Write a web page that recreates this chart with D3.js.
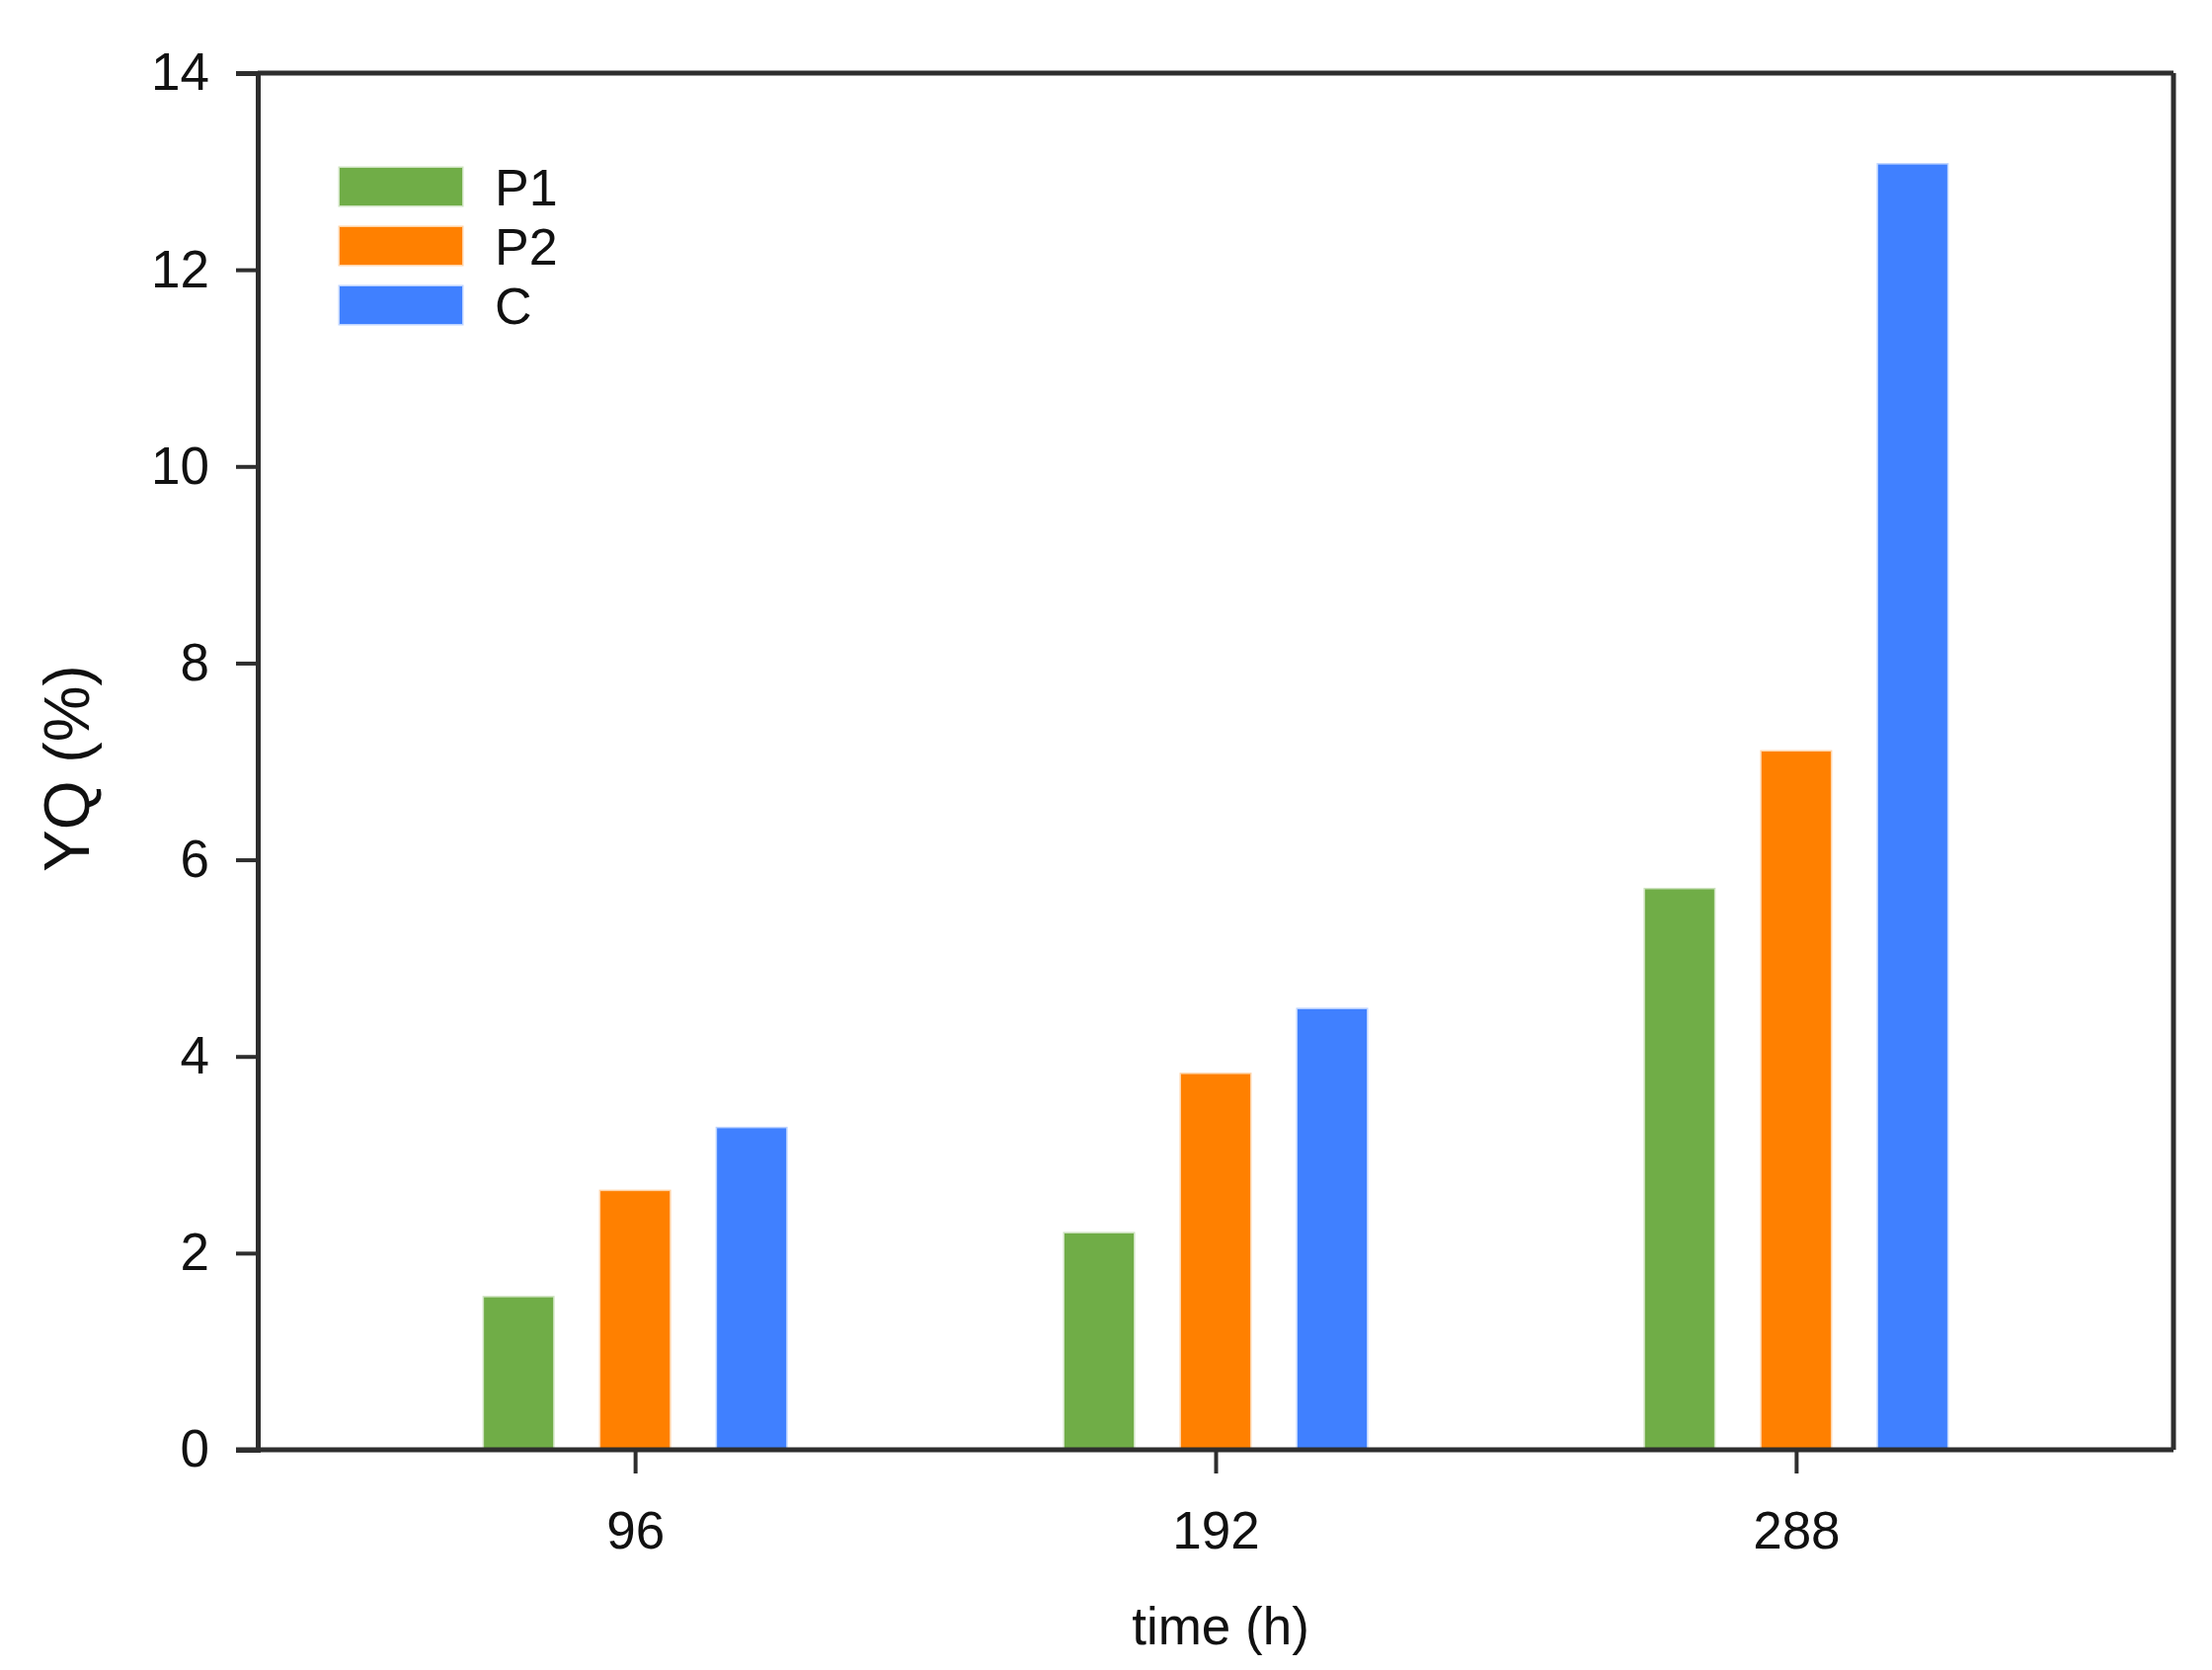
<!DOCTYPE html>
<html>
<head>
<meta charset="utf-8">
<script src="https://cdn.jsdelivr.net/npm/d3@7"></script>
<style>
  html, body { margin: 0; padding: 0; background: #fff; }
  svg { display: block; }
  text { font-family: "Liberation Sans", Arial, sans-serif; fill: #111; }
</style>
</head>
<body>
<svg id="chart" width="2240" height="1691"></svg>
<script>
const categories = [96, 192, 288];
const seriesNames = ["P1", "P2", "C"];
const seriesColors = ["#70AD47", "#FF8000", "#4080FF"];
const P1 = [1.55, 2.20, 5.70];
const P2 = [2.63, 3.82, 7.10];
const C  = [3.27, 4.48, 13.07];
const seriesValues = [P1, P2, C];
const yTicks = [0, 2, 4, 6, 8, 10, 12, 14];
const xTitle = "time (h)";
const yTitle = "YQ (%)";

const svg = d3.select("#chart");
const L = 261, R = 2201, T = 74, B = 1468;

const x = d3.scalePoint().domain(categories).range([L, R]).padding(0.65);
const x1 = d3.scaleBand().domain(seriesNames).range([-153, 153]).paddingInner(0.407).paddingOuter(0);
const y = d3.scaleLinear().domain([0, 14]).range([B, T]);

// bars
const data = [];
categories.forEach((c, i) => {
  seriesNames.forEach((s, j) => data.push({cat: c, series: s, value: seriesValues[j][i], color: seriesColors[j]}));
});
svg.append("g").selectAll("rect").data(data).join("rect")
  .attr("x", d => x(d.cat) + x1(d.series))
  .attr("width", x1.bandwidth())
  .attr("y", d => y(d.value))
  .attr("height", d => y(0) - y(d.value))
  .attr("fill", d => d.color)
  .attr("stroke", d => d.color)
  .attr("stroke-opacity", 0.35)
  .attr("stroke-width", 3);

// frame (top and right)
const axisColor = "#2e2e2e";
const axisW = 5;
svg.append("line").attr("x1", L).attr("x2", R).attr("y1", T).attr("y2", T)
  .attr("stroke", axisColor).attr("stroke-width", axisW);
svg.append("line").attr("x1", R).attr("x2", R).attr("y1", T).attr("y2", B)
  .attr("stroke", axisColor).attr("stroke-width", axisW);

// y axis
const yAxis = svg.append("g").attr("transform", `translate(${L},0)`)
  .call(d3.axisLeft(y).tickValues(yTicks).tickSize(22).tickPadding(27).tickFormat(d3.format("d")));
yAxis.select(".domain").attr("stroke", axisColor).attr("stroke-width", axisW);
yAxis.selectAll(".tick line").attr("stroke", axisColor).attr("stroke-width", 4);
yAxis.selectAll(".tick text").attr("font-size", 53).attr("fill", "#111")
  .style("font-family", "'Liberation Sans', Arial, sans-serif");

// x axis
const xAxis = svg.append("g").attr("transform", `translate(0,${B})`)
  .call(d3.axisBottom(x).tickSize(24).tickPadding(38));
xAxis.select(".domain").attr("d", `M${L - 22},0H${R}`).attr("stroke", axisColor).attr("stroke-width", axisW);
xAxis.selectAll(".tick line").attr("stroke", axisColor).attr("stroke-width", 4);
xAxis.selectAll(".tick text").attr("font-size", 53).attr("fill", "#111")
  .style("font-family", "'Liberation Sans', Arial, sans-serif");

// axis titles
svg.append("text").attr("x", (L + R) / 2 + 5).attr("y", 1665)
  .attr("text-anchor", "middle").attr("font-size", 53).text(xTitle);
svg.append("text").attr("transform", "translate(90,778) rotate(-90)")
  .attr("text-anchor", "middle").attr("font-size", 64).text(yTitle);

// legend
const legend = svg.append("g").attr("transform", "translate(344,170)");
seriesNames.forEach((s, j) => {
  const g = legend.append("g").attr("transform", `translate(0,${j * 60})`);
  g.append("rect").attr("width", 124).attr("height", 38).attr("fill", seriesColors[j])
    .attr("stroke", seriesColors[j]).attr("stroke-opacity", 0.35).attr("stroke-width", 3);
  g.append("text").attr("x", 157).attr("y", 19).attr("dy", "0.36em")
    .attr("font-size", 52).text(s);
});
</script>
</body>
</html>
